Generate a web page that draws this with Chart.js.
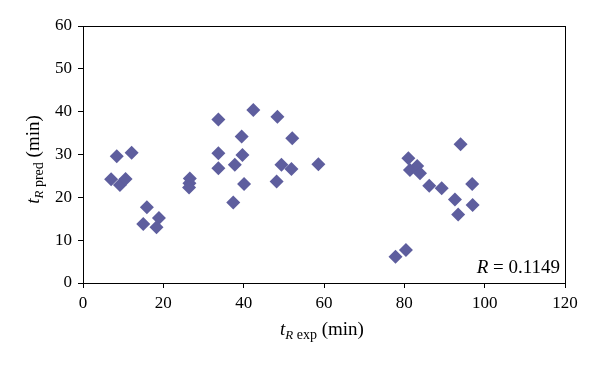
<!DOCTYPE html>
<html>
<head>
<meta charset="utf-8">
<script src="https://cdn.jsdelivr.net/npm/chart.js@4/dist/chart.umd.min.js"></script>
<style>
  html, body { margin: 0; padding: 0; background: #fff; }
  #wrap { width: 600px; height: 367px; }
</style>
</head>
<body>
<div id="wrap"><canvas id="scatter"></canvas></div>
<script>
// experimental vs predicted retention times (min)
const tExp = [
  7.0, 8.4, 9.2, 10.6, 12.1, 15.9, 15.0, 18.9, 18.3,
  26.6, 26.5, 26.4, 33.7, 33.7, 33.7, 37.4, 37.8, 39.5, 39.7, 40.1,
  42.4, 48.4, 48.2, 49.4, 52.1, 51.9, 58.6,
  77.8, 80.4, 81.0, 81.4, 83.2, 83.9, 86.2, 89.3, 92.6, 93.4, 94.0, 96.9, 97.0
];
const tPred = [
  24.2, 29.6, 22.9, 24.3, 30.4, 17.7, 13.8, 15.2, 13.0,
  24.4, 23.3, 22.3, 38.2, 30.3, 26.8, 18.8, 27.6, 34.2, 29.9, 23.1,
  40.4, 38.8, 23.7, 27.6, 33.8, 26.6, 27.7,
  6.1, 7.7, 29.1, 26.4, 27.3, 25.6, 22.7, 22.1, 19.5, 16.0, 32.4, 23.1, 18.2
];
const xTicks = [0, 20, 40, 60, 80, 100, 120];
const yTicks = [0, 10, 20, 30, 40, 50, 60];
const rLabel = "0.1149";

const SERIF = "'Liberation Serif', 'DejaVu Serif', serif";
const pointColor = "#5e5e9e";

// box, axis titles with subscripts and the R annotation
const decorations = {
  id: "decorations",
  afterDraw(chart) {
    const ctx = chart.ctx;
    const a = chart.chartArea;
    ctx.save();
    ctx.strokeStyle = "#000";
    ctx.lineWidth = 1;
    ctx.strokeRect(a.left + 0.5, a.top + 0.5, a.right - a.left, a.bottom - a.top);

    ctx.fillStyle = "#000";
    ctx.textBaseline = "alphabetic";

    function parts(sub) {
      return [
        { t: "t", f: "italic 19px " + SERIF, dy: 0 },
        { t: "R", f: "italic 13px " + SERIF, dy: 4 },
        { t: " " + sub, f: "14px " + SERIF, dy: 4 },
        { t: " (min)", f: "19px " + SERIF, dy: 0 }
      ];
    }
    function drawParts(list, cx, baseY) {
      let total = 0;
      list.forEach(p => { ctx.font = p.f; p.w = ctx.measureText(p.t).width; total += p.w; });
      let x = cx - total / 2;
      ctx.textAlign = "left";
      list.forEach(p => {
        ctx.font = p.f;
        ctx.fillText(p.t, x, baseY + p.dy);
        x += p.w;
      });
    }

    // x title
    drawParts(parts("exp"), (a.left + a.right) / 2 - 2, 335);

    // y title (rotated)
    ctx.save();
    ctx.translate(39, (a.top + a.bottom) / 2 + 5);
    ctx.rotate(-Math.PI / 2);
    drawParts(parts("pred"), 0, 0);
    ctx.restore();

    // R = value
    ctx.textAlign = "right";
    ctx.font = "19px " + SERIF;
    const valText = " = " + rLabel;
    const vw = ctx.measureText(valText).width;
    ctx.fillText(valText, a.right - 5, a.bottom - 10);
    ctx.font = "italic 19px " + SERIF;
    ctx.fillText("R", a.right - 5 - vw, a.bottom - 10);
    ctx.restore();
  }
};

function initChart() {
  const ctx = document.getElementById("scatter").getContext("2d");
  const points = tExp.map((x, i) => ({ x: x, y: tPred[i] }));

  new Chart(ctx, {
    type: "scatter",
    data: {
      datasets: [{
        data: points,
        pointStyle: "rectRot",
        pointRadius: 7,
        pointBackgroundColor: pointColor,
        pointBorderColor: pointColor,
        pointBorderWidth: 0
      }]
    },
    options: {
      responsive: false,
      animation: false,
      events: [],
      layout: { padding: { top: 26, right: 35, left: 0, bottom: 0 } },
      plugins: { legend: { display: false }, tooltip: { enabled: false } },
      scales: {
        x: {
          type: "linear",
          min: xTicks[0],
          max: xTicks[xTicks.length - 1],
          afterBuildTicks: s => { s.ticks = xTicks.map(v => ({ value: v })); },
          afterFit: s => { s.height = 84; },
          grid: { drawOnChartArea: false, drawTicks: true, tickLength: 5, color: "#000" },
          border: { display: true, color: "#000" },
          ticks: { color: "#000", padding: 5, font: { family: SERIF, size: 17 } }
        },
        y: {
          type: "linear",
          min: yTicks[0],
          max: yTicks[yTicks.length - 1],
          afterBuildTicks: s => { s.ticks = yTicks.map(v => ({ value: v })); },
          afterFit: s => { s.width = 83; },
          grid: { drawOnChartArea: false, drawTicks: true, tickLength: 5, color: "#000" },
          border: { display: true, color: "#000" },
          ticks: { color: "#000", padding: 6, font: { family: SERIF, size: 17 } }
        }
      }
    },
    plugins: [decorations]
  });
}

const canvas = document.getElementById("scatter");
canvas.width = 600;
canvas.height = 367;
initChart();
</script>
</body>
</html>
